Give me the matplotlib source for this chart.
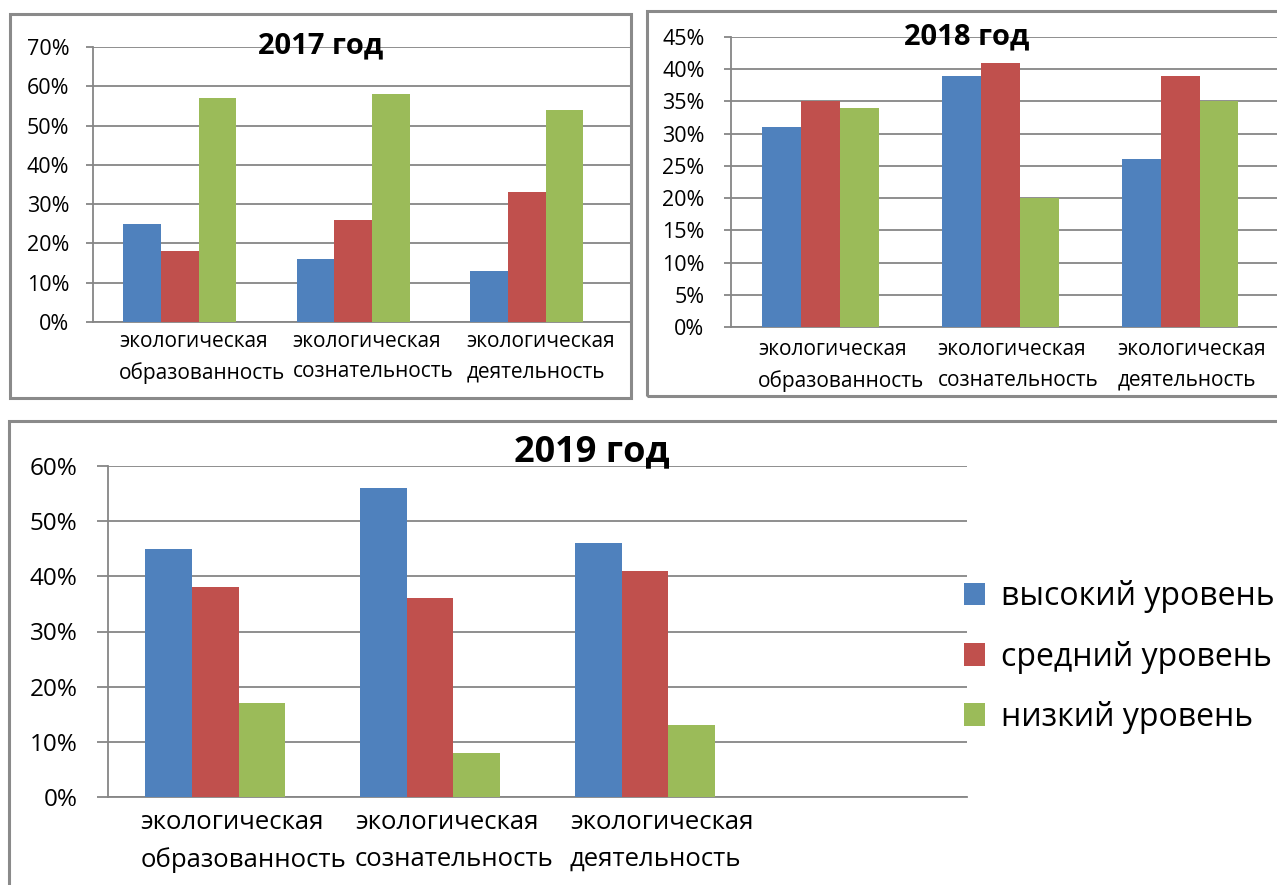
import numpy as np
import matplotlib
matplotlib.use("Agg")
import matplotlib.pyplot as plt
from matplotlib.patches import Rectangle, Patch
from matplotlib.ticker import PercentFormatter

plt.rcParams['font.family'] = ['Open Sans', 'DejaVu Sans']

# data (percent)
categories = ["экологическая\nобразованность",
              "экологическая\nсознательность",
              "экологическая\nдеятельность"]
series_names = ["высокий уровень", "средний уровень", "низкий уровень"]
colors = ["#4F81BD", "#C0504D", "#9BBB59"]

high_2017 = [25, 16, 13]
mid_2017 = [18, 26, 33]
low_2017 = [57, 58, 54]

high_2018 = [31, 39, 26]
mid_2018 = [35, 41, 39]
low_2018 = [34, 20, 35]

high_2019 = [45, 56, 46]
mid_2019 = [38, 36, 41]
low_2019 = [17, 8, 13]

W, H = 1277, 885
GRID = "#868686"
BORDER = "#8a8a8a"

fig = plt.figure(figsize=(W / 100, H / 100), dpi=100)


def add_axes_px(x0, x1, y_bottom, y_top):
    return fig.add_axes([x0 / W, 1 - y_bottom / H, (x1 - x0) / W, (y_bottom - y_top) / H])


def add_border(x0, y0, x1, y1):
    fig.add_artist(Rectangle((x0 / W, 1 - y1 / H), (x1 - x0) / W, (y1 - y0) / H,
                             transform=fig.transFigure, fill=False,
                             edgecolor=BORDER, lw=2.2, clip_on=True))


def draw_panel(ax, values, ymax, ystep, xmax, title, title_xy, fs_tick, fs_cat, fs_title,
               tick_len, line_gap, pad, label_y):
    n = len(categories)
    width = 0.217
    x = np.arange(n)
    for i, (vals, c) in enumerate(zip(values, colors)):
        ax.bar(x + (i - 1) * width, np.array(vals) / 100, width, color=c, zorder=3)
    ax.set_xlim(-0.5, xmax)
    ax.set_ylim(0, ymax)
    ax.set_yticks(np.arange(0, ymax + 1e-9, ystep))
    ax.yaxis.set_major_formatter(PercentFormatter(1.0, decimals=0))
    ax.set_xticks([])
    ax.grid(axis='y', color=GRID, lw=1.3, zorder=0)
    for s in ['top', 'right']:
        ax.spines[s].set_visible(False)
    for s in ['left', 'bottom']:
        ax.spines[s].set_color(GRID)
        ax.spines[s].set_linewidth(1.3)
    ax.tick_params(axis='y', length=tick_len, width=1.3, color=GRID,
                   labelsize=fs_tick, pad=pad)
    # category labels sit left-aligned under each group, as in the source
    for xi, lab in zip(x, categories):
        ax.text(xi - 0.35, label_y, lab, transform=ax.get_xaxis_transform(),
                ha='left', va='top', fontsize=fs_cat, linespacing=line_gap)
    fig.text(title_xy[0] / W, 1 - title_xy[1] / H, title, ha='center', va='center',
             fontsize=fs_title, fontweight='bold')


# panel borders
add_border(10, 14, 631, 398)
add_border(647, 11, 1300, 396)
add_border(9, 421, 1300, 910)

ax1 = add_axes_px(93, 631, 322, 47)
draw_panel(ax1, [high_2017, mid_2017, low_2017], 0.70, 0.10, 2.60,
           "2017 год", (321, 46), 15.5, 15, 21, 5, 1.6, 12, -0.032)

ax2 = add_axes_px(731, 1277, 327, 37)
draw_panel(ax2, [high_2018, mid_2018, low_2018], 0.45, 0.05, 2.54,
           "2018 год", (967, 37), 15.5, 15, 21, 5, 1.6, 14, -0.042)

ax3 = add_axes_px(108, 967, 797, 466)
draw_panel(ax3, [high_2019, mid_2019, low_2019], 0.60, 0.10, 3.5,
           "2019 год", (592, 452), 17.5, 18.5, 26, 8, 1.6, 14, -0.04)

handles = [Patch(facecolor=c, edgecolor='none') for c in colors]
fig.legend(handles, series_names, loc='center left',
           bbox_to_anchor=(964 / W, 1 - 657 / H), frameon=False, borderpad=0,
           borderaxespad=0, fontsize=23, handlelength=0.65, handleheight=0.7,
           handletextpad=0.5, labelspacing=0.85)

fig.savefig("out.png", dpi=100)
